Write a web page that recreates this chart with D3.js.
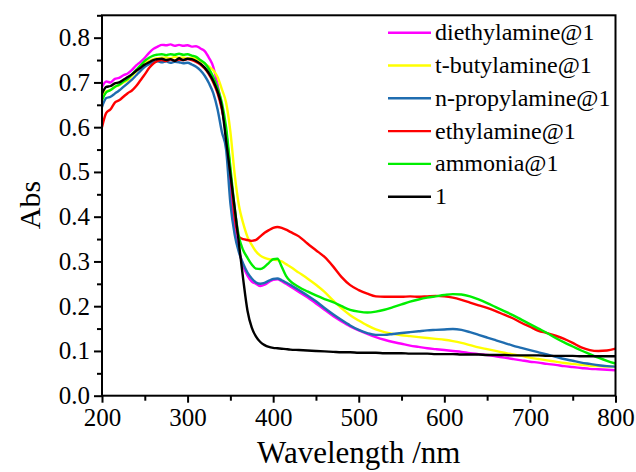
<!DOCTYPE html>
<html><head><meta charset="utf-8">
<script src="https://cdn.jsdelivr.net/npm/d3@7"></script>
<style>body{margin:0;background:#fff}svg{display:block}</style>
</head><body><svg id="c" width="636" height="472"></svg>
<script>
const wavelengths = [200,205,210,215,220,225,230,235,240,245,250,255,260,265,270,275,280,285,290,295,300,305,310,315,320,325,330,335,340,345,350,355,360,365,370,375,380,385,390,395,400,405,410,415,420,430,440,450,460,470,480,490,500,510,520,530,540,550,560,570,580,590,600,610,620,630,640,650,660,670,680,690,700,710,720,730,740,750,760,770,780,790,800];

const diethylamine = [0.690,0.702,0.700,0.708,0.710,0.716,0.720,0.728,0.738,0.746,0.755,0.766,0.775,0.780,0.784,0.783,0.785,0.782,0.784,0.782,0.783,0.780,0.781,0.776,0.770,0.755,0.735,0.695,0.645,0.580,0.460,0.370,0.325,0.290,0.268,0.255,0.250,0.245,0.248,0.254,0.259,0.260,0.256,0.250,0.244,0.232,0.220,0.206,0.192,0.178,0.166,0.155,0.146,0.138,0.131,0.125,0.120,0.116,0.112,0.109,0.106,0.104,0.102,0.100,0.098,0.095,0.093,0.091,0.088,0.085,0.082,0.079,0.076,0.074,0.071,0.069,0.066,0.064,0.062,0.060,0.059,0.058,0.057];

const tButylamine = [0.665,0.680,0.683,0.690,0.694,0.700,0.705,0.715,0.725,0.735,0.743,0.748,0.752,0.754,0.755,0.756,0.754,0.757,0.755,0.756,0.754,0.755,0.752,0.748,0.742,0.735,0.727,0.712,0.685,0.655,0.590,0.495,0.425,0.385,0.355,0.337,0.322,0.313,0.308,0.305,0.304,0.303,0.300,0.294,0.288,0.275,0.262,0.248,0.232,0.213,0.195,0.180,0.168,0.157,0.148,0.142,0.138,0.135,0.133,0.131,0.129,0.127,0.125,0.122,0.118,0.113,0.108,0.104,0.100,0.096,0.092,0.089,0.085,0.082,0.079,0.076,0.073,0.071,0.069,0.067,0.066,0.065,0.065];

const nPropylamine = [0.645,0.665,0.668,0.675,0.682,0.690,0.698,0.706,0.716,0.726,0.735,0.741,0.745,0.747,0.745,0.747,0.744,0.746,0.745,0.743,0.744,0.740,0.735,0.727,0.715,0.698,0.676,0.640,0.590,0.550,0.430,0.360,0.320,0.295,0.275,0.262,0.253,0.250,0.252,0.257,0.261,0.262,0.258,0.253,0.248,0.236,0.224,0.211,0.196,0.182,0.169,0.157,0.147,0.140,0.136,0.136,0.138,0.140,0.142,0.144,0.146,0.147,0.148,0.149,0.147,0.142,0.136,0.130,0.124,0.118,0.112,0.107,0.102,0.097,0.092,0.087,0.082,0.078,0.074,0.071,0.068,0.066,0.065];

const ethylamine = [0.600,0.632,0.640,0.655,0.660,0.668,0.676,0.682,0.692,0.705,0.718,0.732,0.742,0.748,0.750,0.748,0.751,0.749,0.751,0.750,0.752,0.750,0.746,0.740,0.731,0.718,0.700,0.676,0.640,0.590,0.500,0.400,0.355,0.350,0.348,0.346,0.348,0.356,0.364,0.370,0.375,0.377,0.375,0.371,0.366,0.356,0.340,0.325,0.310,0.289,0.265,0.247,0.236,0.228,0.222,0.221,0.221,0.221,0.222,0.221,0.222,0.223,0.222,0.219,0.214,0.208,0.202,0.196,0.189,0.181,0.173,0.163,0.154,0.145,0.140,0.134,0.127,0.118,0.108,0.102,0.100,0.101,0.105];

const ammonia = [0.660,0.678,0.683,0.690,0.695,0.702,0.708,0.718,0.728,0.738,0.748,0.755,0.760,0.762,0.763,0.761,0.763,0.762,0.764,0.762,0.763,0.760,0.757,0.750,0.743,0.730,0.712,0.688,0.655,0.600,0.510,0.420,0.355,0.325,0.308,0.293,0.284,0.283,0.288,0.297,0.305,0.306,0.288,0.268,0.256,0.243,0.233,0.224,0.216,0.209,0.200,0.192,0.188,0.186,0.188,0.192,0.198,0.204,0.210,0.215,0.219,0.222,0.225,0.227,0.226,0.222,0.215,0.207,0.198,0.189,0.180,0.170,0.160,0.150,0.140,0.129,0.119,0.110,0.101,0.093,0.085,0.078,0.072];

const compound1 = [0.675,0.690,0.692,0.698,0.700,0.706,0.712,0.718,0.726,0.733,0.740,0.745,0.750,0.752,0.753,0.750,0.752,0.748,0.754,0.750,0.753,0.752,0.748,0.742,0.733,0.720,0.703,0.680,0.645,0.570,0.495,0.420,0.340,0.260,0.190,0.152,0.132,0.120,0.113,0.109,0.107,0.106,0.105,0.104,0.103,0.102,0.101,0.100,0.099,0.098,0.097,0.097,0.096,0.096,0.096,0.095,0.095,0.095,0.094,0.094,0.094,0.093,0.093,0.093,0.092,0.092,0.092,0.091,0.091,0.091,0.090,0.090,0.090,0.090,0.089,0.089,0.089,0.089,0.088,0.088,0.088,0.088,0.088];

const seriesNames = ["diethylamine@1","t-butylamine@1","n-propylamine@1","ethylamine@1","ammonia@1","1"];
const seriesValues = [diethylamine,tButylamine,nPropylamine,ethylamine,ammonia,compound1];
const seriesColors = ["#ff00ff","#ffff00","#1f6db0","#ff0000","#00ee00","#000000"];
const xTicks = [200,300,400,500,600,700,800];
const yTicks = [0.0,0.1,0.2,0.3,0.4,0.5,0.6,0.7,0.8];

const FONT = "Liberation Serif";
const svg = d3.select("#c");
const L=102, R=615.5, T=15.3, B=395.7;
const x = d3.scaleLinear().domain([200,800]).range([L,R]);
const y = d3.scaleLinear().domain([0,0.85]).range([B,T]);

const plot = svg.append("g");
const line = d3.line().x(d=>x(d[0])).y(d=>y(d[1])).curve(d3.curveMonotoneX);
[0,1,2,3,4,5].forEach(i=>{
  plot.append("path").datum(wavelengths.map((w,k)=>[w,seriesValues[i][k]]))
    .attr("d",line).attr("fill","none").attr("stroke",seriesColors[i])
    .attr("stroke-width",2.4).attr("stroke-linejoin","round");
});

svg.append("rect").attr("x",L).attr("y",T).attr("width",R-L).attr("height",B-T)
  .attr("fill","none").attr("stroke","#000").attr("stroke-width",2);

const gx = svg.append("g").attr("transform",`translate(0,${B})`)
  .call(d3.axisBottom(x).tickValues(xTicks).tickFormat(d3.format("d")).tickSize(7).tickPadding(6));
gx.attr("font-family",null).attr("font-size",null);
gx.selectAll("text").attr("font-family",FONT).attr("font-size",25).attr("fill","#000");
gx.select(".domain").remove();
gx.selectAll("line").attr("stroke-width",2);
const gxm = svg.append("g").attr("transform",`translate(0,${B})`)
  .call(d3.axisBottom(x).tickValues([250,350,450,550,650,750]).tickFormat("").tickSize(5));
gxm.select(".domain").remove(); gxm.selectAll("line").attr("stroke-width",2);

const gy = svg.append("g").attr("transform",`translate(${L},0)`)
  .call(d3.axisLeft(y).tickValues(yTicks).tickFormat(d3.format(".1f")).tickSize(8).tickPadding(4));
gy.attr("font-family",null).attr("font-size",null);
gy.selectAll("text").attr("font-family",FONT).attr("font-size",25).attr("fill","#000");
gy.select(".domain").remove();
gy.selectAll("line").attr("stroke-width",2);
const gym = svg.append("g").attr("transform",`translate(${L},0)`)
  .call(d3.axisLeft(y).tickValues([0.05,0.15,0.25,0.35,0.45,0.55,0.65,0.75,0.85]).tickFormat("").tickSize(5));
gym.select(".domain").remove(); gym.selectAll("line").attr("stroke-width",2);

svg.append("text").attr("x",(L+R)/2).attr("y",463).attr("text-anchor","middle")
  .attr("font-family",FONT).attr("font-size",31).text("Wavelength /nm");
svg.append("text").attr("transform","translate(40,205) rotate(-90)").attr("text-anchor","middle")
  .attr("font-family",FONT).attr("font-size",30).text("Abs");

const leg = svg.append("g");
seriesNames.forEach((n,i)=>{
  const cy = 32.7 + i*32.8;
  leg.append("line").attr("x1",388).attr("x2",431).attr("y1",cy).attr("y2",cy)
    .attr("stroke",seriesColors[i]).attr("stroke-width",2.4);
  leg.append("text").attr("x",435).attr("y",cy+7.5).attr("font-family",FONT).attr("font-size",24).text(n);
});
</script></body></html>
